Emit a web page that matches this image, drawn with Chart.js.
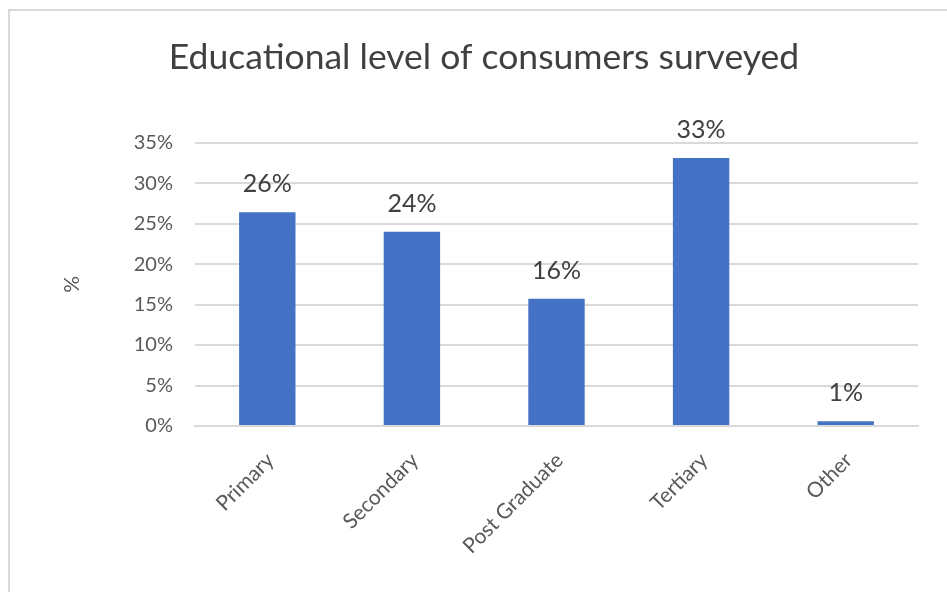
<!DOCTYPE html>
<html>
<head>
<meta charset="utf-8">
<script src="https://cdn.jsdelivr.net/npm/chart.js@4"></script>
<style>
  html, body { margin: 0; padding: 0; background: #fff; }
  #wrap { position: relative; width: 947px; height: 592px; overflow: hidden; }
  #frame { position: absolute; left: 8px; top: 9px; width: 960px; height: 600px;
           border-left: 2px solid #d9d9d9; border-top: 2px solid #d9d9d9; pointer-events: none; }
</style>
</head>
<body>
<div id="wrap">
  <canvas id="chart" width="947" height="592"></canvas>
  <div id="frame"></div>
</div>
<script>
// data
const categories = ['Primary', 'Secondary', 'Post Graduate', 'Tertiary', 'Other'];
const shares = [26.4, 24.0, 15.7, 33.1, 0.6];
const yTicks = [0, 5, 10, 15, 20, 25, 30, 35];

const textGrey = '#595959';
const darkGrey = '#404040';
const gridGrey = '#d9d9d9';

// value labels above each bar
const barLabels = {
    id: 'barLabels',
    afterDatasetsDraw(chart) {
        const ctx = chart.ctx;
        const meta = chart.getDatasetMeta(0);
        ctx.save();
        ctx.font = '25px Lato';
        ctx.fillStyle = darkGrey;
        ctx.textAlign = 'center';
        ctx.textBaseline = 'alphabetic';
        meta.data.forEach((bar, i) => {
            ctx.fillText(Math.round(shares[i]) + '%', bar.x, bar.y - 20);
        });
        ctx.restore();
    }
};

Chart.defaults.font.family = 'Lato';
Chart.defaults.color = textGrey;

new Chart(document.getElementById('chart'), {
    type: 'bar',
    data: {
        labels: categories,
        datasets: [{
            data: shares,
            backgroundColor: '#4472C4',
            categoryPercentage: 1,
            barPercentage: 0.39
        }]
    },
    options: {
        responsive: false,
        animation: false,
        layout: { padding: { left: 50, right: 29, top: 0, bottom: 0 } },
        plugins: {
            legend: { display: false },
            tooltip: { enabled: false },
            title: {
                display: true,
                text: 'Educational level of consumers surveyed',
                color: darkGrey,
                font: { size: 35.5, weight: 'normal', lineHeight: 1.2 },
                padding: { top: 36, bottom: 64 }
            }
        },
        scales: {
            x: {
                grid: { display: false },
                border: { color: gridGrey, width: 2 },
                ticks: {
                    font: { size: 21 },
                    color: textGrey,
                    minRotation: 45,
                    maxRotation: 45,
                    padding: 14,
                    labelOffset: 3
                },
                afterFit(scale) { scale.height = 166; }
            },
            y: {
                min: 0,
                max: 35,
                afterBuildTicks(scale) { scale.ticks = yTicks.map(v => ({ value: v })); },
                grid: { color: gridGrey, lineWidth: 2, drawTicks: false },
                border: { display: false },
                ticks: {
                    font: { size: 20 },
                    color: textGrey,
                    padding: 22,
                    callback: v => v + '%'
                },
                title: {
                    display: true,
                    text: '%',
                    color: textGrey,
                    font: { size: 21 },
                    padding: { top: 10, bottom: 0 }
                },
                afterFit(scale) { scale.width = 145; }
            }
        }
    },
    plugins: [barLabels]
});
</script>
</body>
</html>
